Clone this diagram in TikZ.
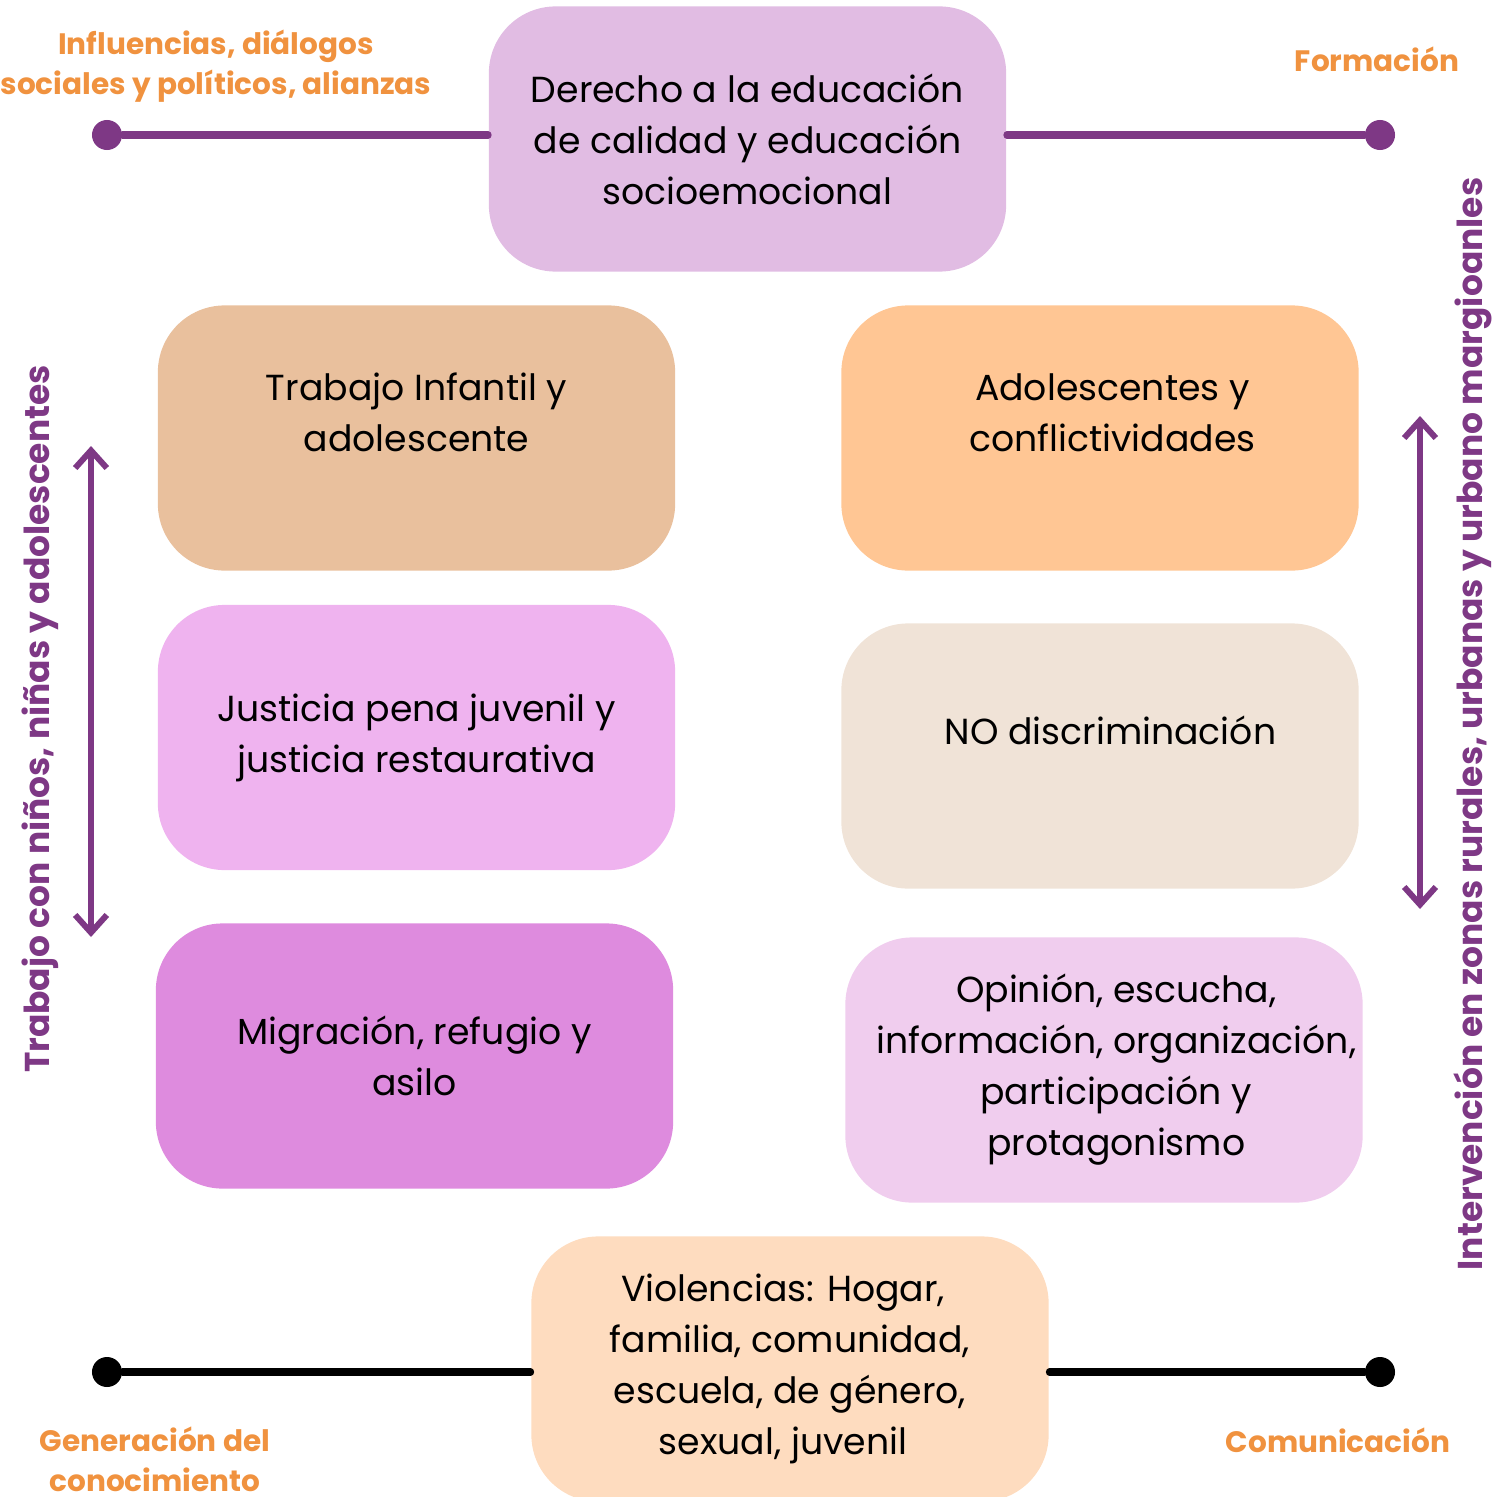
\documentclass[tikz,border=0pt]{standalone}
\usepackage{fontspec}
\setmainfont{Poppins}
\usetikzlibrary{arrows.meta}

\definecolor{morado}{HTML}{7E3885}
\definecolor{naranja}{HTML}{F0923F}
\definecolor{lila}{HTML}{E1BCE3}
\definecolor{arena}{HTML}{E9C09D}
\definecolor{durazno}{HTML}{FFC694}
\definecolor{rosa}{HTML}{EFB3EF}
\definecolor{crema}{HTML}{F0E3D7}
\definecolor{orquidea}{HTML}{DE8BDE}
\definecolor{malva}{HTML}{F0CDEE}
\definecolor{melocoton}{HTML}{FEDCBF}

\tikzset{
  caja/.style={rounded corners=19pt, minimum width=5.17cm, minimum height=2.65cm,
    inner sep=0pt, align=center, font=\fontsize{10.3}{14.5}\selectfont},
  etiqueta/.style={text=naranja, align=center, font=\bfseries\fontsize{8.4}{11.4}\selectfont},
  eje/.style={rotate=90, text=morado, font=\bfseries\fontsize{9.8}{12}\selectfont},
  punto/.style={circle, inner sep=0pt, minimum size=0.3cm},
  flecha/.style={morado, line width=1.7pt,
    {Straight Barb[length=5pt,width=9pt]}-{Straight Barb[length=5pt,width=9pt]}},
}

\begin{document}
\begin{tikzpicture}[x=0.01cm,y=-0.01cm, line join=round, line cap=round]
  \useasboundingbox (0,0) rectangle (1506,1497);

  % cajas
  \node[caja, fill=lila] (derecho) at (747.5,139) {Derecho a la educación\\de calidad y educación\\socioemocional};
  \node[caja, fill=arena] (trabajo) at (416.5,438) {Trabajo Infantil y\\adolescente\\\mbox{}};
  \node[caja, fill=durazno] (adoles) at (1100,438) {\hspace*{7pt}Adolescentes y\\\hspace*{7pt}conflictividades\\\mbox{}};
  \node[caja, fill=rosa] (justicia) at (416.5,737.5) {Justicia pena juvenil y\\justicia restaurativa};
  \node[caja, fill=crema] (nodisc) at (1100,756) {\hspace*{6pt}NO discriminación\\\mbox{}};
  \node[caja, fill=orquidea] (migra) at (414.5,1056) {Migración, refugio y\\asilo};
  \node[caja, fill=malva] (opinion) at (1104,1070) {\hspace*{7pt}Opinión, escucha,\\\hspace*{7pt}información, organización,\\\hspace*{7pt}participación y\\\hspace*{7pt}protagonismo};
  \node[caja, fill=melocoton] (violen) at (790,1369) {Violencias: Hogar,\hspace*{4pt}\\familia, comunidad,\hspace*{4pt}\\escuela, de género,\hspace*{4pt}\\sexual, juvenil\hspace*{4pt}};

  % lineas de arriba y de abajo
  \node[punto, fill=morado] (p1) at (107,135) {};
  \node[punto, fill=morado] (p2) at (1380,135) {};
  \node[punto, fill=black] (p3) at (107,1372) {};
  \node[punto, fill=black] (p4) at (1380,1372) {};
  \draw[morado, line width=2pt] (p1) -- (p1 -| derecho.west);
  \draw[morado, line width=2pt] (p2) -- (p2 -| derecho.east);
  \draw[black, line width=2pt] (p3) -- (p3 -| violen.west);
  \draw[black, line width=2pt] (p4) -- (p4 -| violen.east);

  % flechas
  \coordinate (a1) at (91,446);
  \coordinate (a2) at (91,937);
  \coordinate (b1) at (1420,416);
  \coordinate (b2) at (1420,909);
  \draw[flecha] (a1) -- (a2);
  \draw[flecha] (b1) -- (b2);

  % textos
  \node[etiqueta] (influ) at (216,66) {Influencias, diálogos\\sociales y políticos, alianzas};
  \node[etiqueta] (forma) at (1377,59) {Formación};
  \node[etiqueta] (gener) at (155,1459) {Generación del\\conocimiento};
  \node[etiqueta] (comun) at (1338,1440) {Comunicación};
  \node[eje] (eje1) at (40,719) {Trabajo con niños, niñas y adolescentes};
  \node[eje] (eje2) at (1473,724) {Intervención en zonas rurales, urbanas y urbano margioanles};
\end{tikzpicture}
\end{document}
